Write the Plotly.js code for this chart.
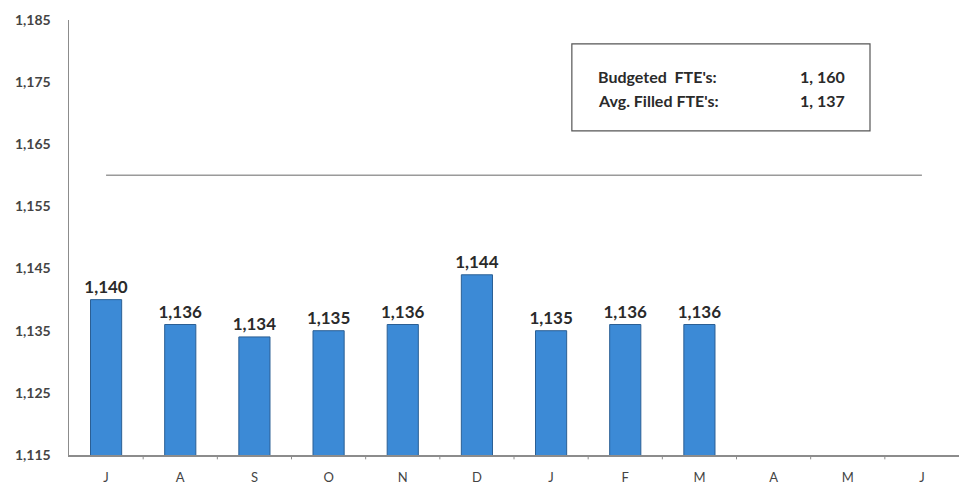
<!DOCTYPE html>
<html>
<head>
<meta charset="utf-8">
<script src="https://cdn.plot.ly/plotly-3.0.1.min.js"></script>
<style>
  html, body { margin: 0; padding: 0; background: #fff; }
  #chart { width: 959px; height: 486px; }
</style>
</head>
<body>
<div id="chart"></div>
<script>
// Fiscal-year months (July through June)
const months = ['J', 'A', 'S', 'O', 'N', 'D', 'J', 'F', 'M', 'A', 'M', 'J'];
// Filled FTE's per month; later months not yet reported
const filledFTE = [1140, 1136, 1134, 1135, 1136, 1144, 1135, 1136, 1136, null, null, null];
const budgetedFTE = 1160;
const avgFilledFTE = 1137;
const yTicks = [1115, 1125, 1135, 1145, 1155, 1165, 1175, 1185];

const fmt = v => v.toLocaleString('en-US');
const catIdx = months.map((_, i) => i);

const font = "Lato, 'Open Sans', sans-serif";

const bars = {
  type: 'bar',
  x: catIdx,
  y: filledFTE,
  marker: { color: '#3c8ad6', line: { color: '#2b5f94', width: 1 } },
  text: filledFTE.map(v => v == null ? '' : fmt(v)),
  textposition: 'outside',
  constraintext: 'none',
  cliponaxis: false,
  textfont: { family: font, size: 17, color: '#2a2a2a', weight: 'bold' },
  hoverinfo: 'skip',
  showlegend: false
};

const budgetLine = {
  type: 'scatter',
  mode: 'lines',
  x: catIdx,
  y: months.map(() => budgetedFTE),
  line: { color: '#9a9a9a', width: 1.5 },
  hoverinfo: 'skip',
  showlegend: false
};

const layout = {
  width: 959,
  height: 486,
  margin: { l: 69, r: 0, t: 20, b: 31 },
  paper_bgcolor: '#fff',
  plot_bgcolor: '#fff',
  bargap: 0.58,
  font: { family: font, color: '#444' },
  xaxis: {
    tickmode: 'array',
    tickvals: catIdx,
    ticktext: months,
    range: [-0.5, 11.5],
    showgrid: false,
    zeroline: false,
    showline: true,
    linecolor: '#8c8c8c',
    linewidth: 1.5,
    ticks: '',
    ticklabelstandoff: 10,
    tickfont: { family: font, size: 13, color: '#444' }
  },
  yaxis: {
    range: [1115, 1185],
    tickmode: 'array',
    tickvals: yTicks,
    ticktext: yTicks.map(fmt),
    showgrid: false,
    zeroline: false,
    showline: true,
    linecolor: '#8c8c8c',
    linewidth: 1.5,
    ticks: '',
    ticklabelstandoff: 14,
    tickfont: { family: font, size: 14, color: '#444', weight: 'bold' }
  },
  shapes: [
    // summary box outline
    { type: 'rect', xref: 'paper', yref: 'paper',
      x0: 0.565, x1: 0.9, y0: 0.745, y1: 0.945,
      line: { color: '#555', width: 1.2 }, fillcolor: 'rgba(0,0,0,0)' }
  ].concat(
    // tick marks on category boundaries
    catIdx.slice(1).map(i => ({
      type: 'line', xref: 'x', yref: 'paper',
      x0: i - 0.5, x1: i - 0.5, y0: 0, y1: -0.01,
      line: { color: '#8c8c8c', width: 1 }
    }))
  ),
  annotations: [
    { xref: 'paper', yref: 'paper', x: 0.592, y: 0.87, xanchor: 'left', yanchor: 'middle',
      text: "Budgeted  FTE's:", showarrow: false,
      font: { family: font, size: 16, color: '#2a2a2a', weight: 'bold' } },
    { xref: 'paper', yref: 'paper', x: 0.874, y: 0.87, xanchor: 'right', yanchor: 'middle',
      text: '1, ' + String(budgetedFTE).slice(1), showarrow: false,
      font: { family: font, size: 16, color: '#2a2a2a', weight: 'bold' } },
    { xref: 'paper', yref: 'paper', x: 0.592, y: 0.815, xanchor: 'left', yanchor: 'middle',
      text: "Avg. Filled FTE's:", showarrow: false,
      font: { family: font, size: 16, color: '#2a2a2a', weight: 'bold' } },
    { xref: 'paper', yref: 'paper', x: 0.874, y: 0.815, xanchor: 'right', yanchor: 'middle',
      text: '1, ' + String(avgFilledFTE).slice(1), showarrow: false,
      font: { family: font, size: 16, color: '#2a2a2a', weight: 'bold' } }
  ]
};

Plotly.newPlot('chart', [budgetLine, bars], layout, { displayModeBar: false, staticPlot: true });
</script>
</body>
</html>
